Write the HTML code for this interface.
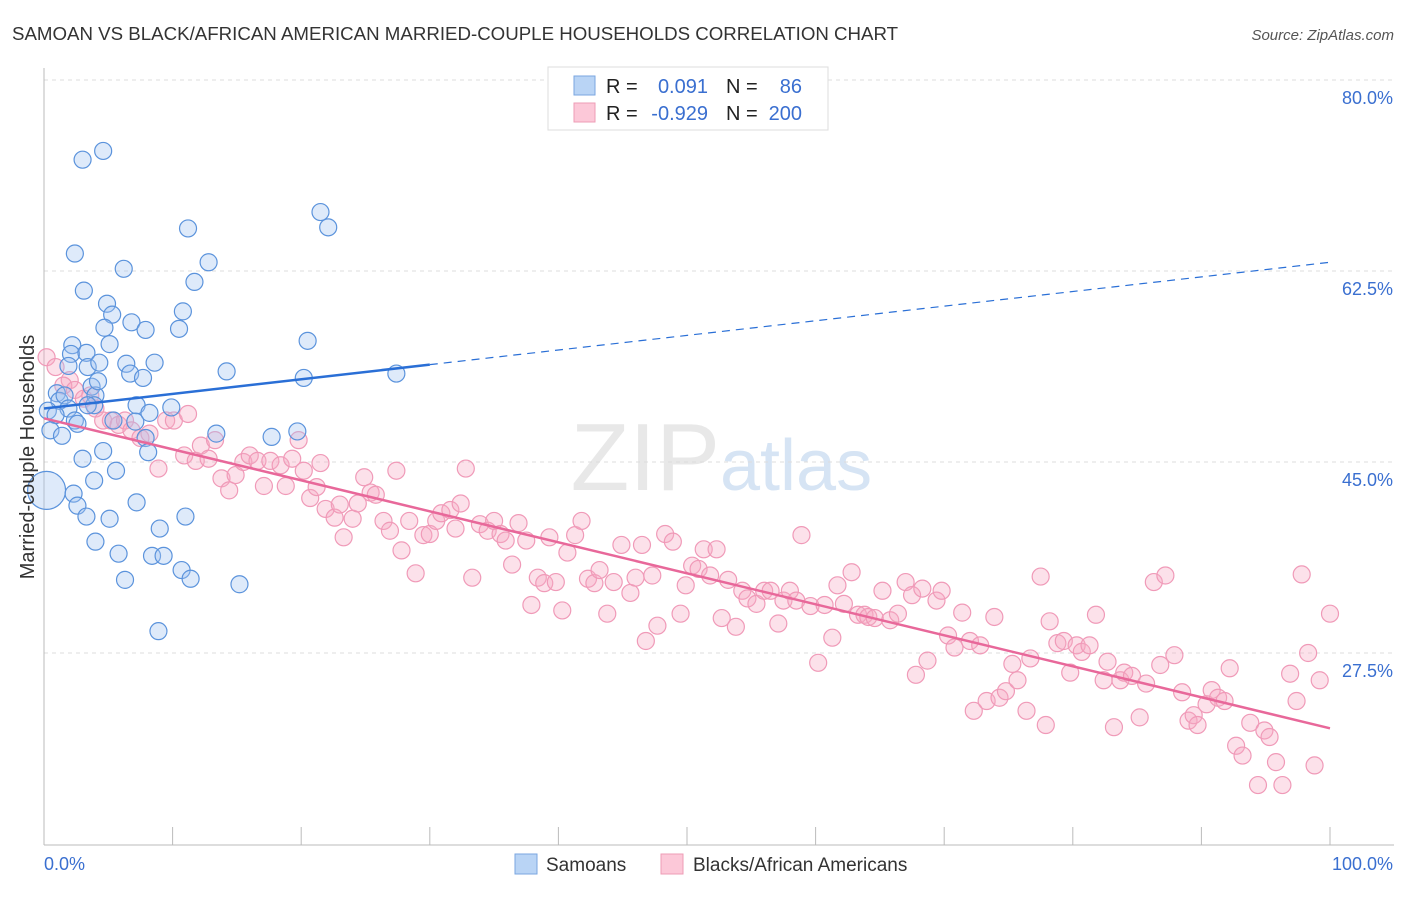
<!DOCTYPE html>
<html><head><meta charset="utf-8"><style>
body{margin:0;background:#fff;font-family:"Liberation Sans",sans-serif;}
svg text{font-family:"Liberation Sans",sans-serif;}
</style></head><body>
<svg id="chart" width="1406" height="892" viewBox="0 0 1406 892">
<text x="12" y="40" font-size="18.7" fill="#333">SAMOAN VS BLACK/AFRICAN AMERICAN MARRIED-COUPLE HOUSEHOLDS CORRELATION CHART</text>
<text x="1394" y="40" font-size="15" fill="#555" font-style="italic" text-anchor="end">Source: ZipAtlas.com</text>
<text x="720" y="490" font-size="96" fill="#e8e8e8" text-anchor="end" font-family="Liberation Serif">ZIP</text>
<text x="720" y="490" font-size="72" fill="#d6e4f4">atlas</text>
<g id="grid"></g>
<g id="axes"></g>
<g id="points"></g>
<g id="trends"></g>
<text transform="translate(34,457) rotate(-90)" font-size="20" fill="#333" text-anchor="middle">Married-couple Households</text>
<g>
<rect x="548" y="67" width="280" height="63" fill="#fff" stroke="#ddd"/>
<rect x="574" y="76" width="21" height="19" fill="#b9d4f5" stroke="#7aa6e0"/>
<rect x="574" y="103" width="21" height="19" fill="#fcc8d8" stroke="#ee9cb6"/>
<text x="606" y="93" font-size="20" fill="#222">R =</text>
<text x="708" y="93" font-size="20" fill="#3a6fd0" text-anchor="end">0.091</text>
<text x="726" y="93" font-size="20" fill="#222">N =</text>
<text x="802" y="93" font-size="20" fill="#3a6fd0" text-anchor="end">86</text>
<text x="606" y="120" font-size="20" fill="#222">R =</text>
<text x="708" y="120" font-size="20" fill="#3a6fd0" text-anchor="end">-0.929</text>
<text x="726" y="120" font-size="20" fill="#222">N =</text>
<text x="802" y="120" font-size="20" fill="#3a6fd0" text-anchor="end">200</text>
</g>
<g>
<rect x="515" y="854" width="22" height="20" fill="#b9d4f5" stroke="#7aa6e0"/>
<text x="546" y="871" font-size="19" fill="#333">Samoans</text>
<rect x="661" y="854" width="22" height="20" fill="#fcc8d8" stroke="#ee9cb6"/>
<text x="693" y="871" font-size="19" fill="#333">Blacks/African Americans</text>
</g>
</svg>
<script>
const yTicks=[80,62.5,45,27.5];
const yTickLabels=["80.0%","62.5%","45.0%","27.5%"];
const xTicks=[0,10,20,30,40,50,60,70,80,90,100];
const xEndLabels=["0.0%","100.0%"];
const blueX=[3.0,4.6,2.4,3.1,6.2,11.2,12.8,11.7,4.9,5.3,4.7,6.8,7.9,10.8,10.5,2.2,2.1,3.3,5.1,1.9,3.4,4.3,6.4,8.6,6.7,7.7,14.2,20.5,20.2,21.5,22.1,27.4,1.0,1.2,1.6,1.9,3.7,4.0,4.2,3.9,0.3,0.9,0.5,1.4,2.4,2.6,3.4,5.4,7.2,7.1,8.2,9.9,7.9,8.1,13.4,17.7,19.7,3.0,4.6,5.6,3.9,0.2,2.3,2.6,3.3,5.1,7.2,4.0,5.8,9.0,11.0,8.4,9.3,10.7,6.3,11.4,15.2,8.9];
const blueY=[72.7,73.5,64.1,60.7,62.7,66.4,63.3,61.5,59.5,58.5,57.3,57.8,57.1,58.8,57.2,55.7,54.9,55.0,55.8,53.8,53.7,54.1,54.0,54.1,53.1,52.7,53.3,56.1,52.7,67.9,66.5,53.1,51.3,50.6,51.1,49.9,51.9,51.1,52.4,50.2,49.7,49.3,47.9,47.4,48.8,48.5,50.2,48.8,50.2,48.7,49.5,50.0,47.2,45.9,47.6,47.3,47.8,45.3,46.0,44.2,43.3,42.4,42.1,41.0,40.0,39.8,41.3,37.7,36.6,38.9,40.0,36.4,36.4,35.1,34.2,34.3,33.8,29.5];
const blueBigIndex=[61];
const pinkX=[0.2,0.9,2.0,1.5,2.4,3.1,3.6,4.0,4.6,5.2,5.8,6.3,6.8,7.5,8.2,8.9,9.5,10.1,11.2,10.9,11.8,12.2,12.8,13.3,13.8,14.4,14.9,15.5,16.0,16.6,17.1,17.6,18.4,18.8,19.3,19.8,20.2,20.7,21.2,21.5,21.9,22.6,23.0,23.3,24.0,24.4,24.9,25.4,25.8,26.4,26.9,27.4,27.8,28.4,28.9,29.5,30.0,30.5,30.9,31.6,32.0,32.4,32.8,33.3,33.9,34.5,35.0,35.5,35.9,36.4,36.9,37.5,37.9,38.4,38.9,39.3,39.8,40.3,40.7,41.3,41.8,42.3,42.8,43.2,43.8,44.3,44.9,45.6,46.0,46.5,46.8,47.3,47.7,48.3,48.9,49.5,49.9,50.4,50.9,51.3,51.8,52.3,52.7,53.2,53.8,54.3,54.7,55.4,56.0,56.5,57.1,57.5,58.0,58.5,58.9,59.6,60.2,60.7,61.3,61.7,62.2,62.8,63.3,63.8,64.1,64.6,65.2,65.8,66.4,67.0,67.5,67.8,68.3,68.7,69.4,69.8,70.3,70.8,71.4,72.0,72.3,72.8,73.3,73.9,74.3,74.8,75.3,75.7,76.4,76.7,77.5,77.9,78.2,78.8,79.3,79.8,80.3,80.7,81.3,81.8,82.4,82.7,83.2,83.7,84.0,84.6,85.2,85.7,86.3,86.8,87.2,87.9,88.5,89.0,89.4,89.7,90.4,90.8,91.3,91.8,92.2,92.7,93.2,93.8,94.4,94.9,95.3,95.8,96.3,96.9,97.4,97.8,98.3,98.8,99.2,100];
const pinkY=[54.6,53.7,52.5,52.0,51.6,50.8,51.1,49.9,48.8,48.8,48.4,48.8,47.9,47.2,47.6,44.4,48.8,48.8,49.4,45.6,45.1,46.5,45.3,47.0,43.5,42.4,43.8,45.0,45.6,45.1,42.8,45.1,44.7,42.8,45.3,47.0,44.2,41.7,42.7,44.9,40.7,39.9,41.1,38.1,39.8,41.2,43.6,42.2,42.0,39.6,38.7,44.2,36.9,39.6,34.8,38.3,38.4,39.6,40.3,40.6,38.9,41.2,44.4,34.4,39.3,38.7,39.6,38.4,37.8,35.6,39.4,37.8,31.9,34.4,33.9,38.1,34.0,31.4,36.7,38.3,39.6,34.3,33.9,35.1,31.1,34.0,37.4,33.0,34.4,37.4,28.6,34.6,30.0,38.4,37.7,31.1,33.7,35.5,35.2,37.0,34.6,37.0,30.7,34.2,29.9,33.2,32.5,32.0,33.2,33.2,30.2,32.3,33.2,32.3,38.3,31.8,26.6,31.9,28.9,33.7,32.0,34.9,31.0,31.0,30.8,30.7,33.2,30.5,31.1,34.0,32.8,25.5,33.4,26.8,32.3,33.2,29.1,28.0,31.2,28.6,22.2,28.2,23.1,30.8,23.4,24.0,26.5,25.0,22.2,27.0,34.5,20.9,30.4,28.4,28.6,25.7,28.2,27.6,28.2,31.0,25.0,26.7,20.7,25.0,25.7,25.4,21.6,24.7,34.0,26.4,34.6,27.3,23.9,21.3,21.8,20.9,22.8,24.1,23.4,23.1,26.1,19.0,18.1,21.1,15.4,20.4,19.8,17.5,15.4,25.6,23.1,34.7,27.5,17.2,25.0,31.1];
const blueTrend=[49.9,0.134];
const pinkTrend=[49.0,-0.284];
const blueSolidEnd=30;
const NS="http://www.w3.org/2000/svg";
function xs(v){return 44+v*12.86;}
function ys(v){return 80+(80-v)*10.914;}
function mk(tag,attrs,parent){const e=document.createElementNS(NS,tag);for(const k in attrs)e.setAttribute(k,attrs[k]);parent.appendChild(e);return e;}
const grid=document.getElementById('grid'),axes=document.getElementById('axes'),pts=document.getElementById('points'),tr=document.getElementById('trends');
yTicks.forEach((t,i)=>{
  const l=mk('line',{x1:44,x2:1394,y1:ys(t),y2:ys(t),stroke:'#ddd','stroke-dasharray':'4,4'},grid);
  
  
  const tx=mk('text',{x:1393,y:ys(t)+24,'font-size':18,fill:'#3a6fd0','text-anchor':'end'},grid);
  tx.textContent=yTickLabels[i];
  
  
});
const ya=mk('line',{x1:44,x2:44,y1:68,y2:845,stroke:'#bbb'},axes);


const xa=mk('line',{x1:44,x2:1394,y1:845,y2:845,stroke:'#bbb'},axes);


xTicks.forEach(t=>{
  const l=mk('line',{x1:xs(t),x2:xs(t),y1:827,y2:845,stroke:'#bbb'},axes);
  
  
});
const xl0=mk('text',{x:44,y:870,'font-size':18,fill:'#3a6fd0'},axes);xl0.textContent=xEndLabels[0];


const xl1=mk('text',{x:1393,y:870,'font-size':18,fill:'#3a6fd0','text-anchor':'end'},axes);xl1.textContent=xEndLabels[1];


pinkX.forEach((x,i)=>{
  const c=mk('circle',{cx:xs(x),cy:ys(pinkY[i]),r:8.5,fill:'rgba(247,170,196,0.35)',stroke:'#f09ab8','stroke-width':1.2},pts);
  
  
});
blueX.forEach((x,i)=>{
  const big=blueBigIndex.includes(i);
  const c=mk('circle',{cx:xs(x),cy:ys(blueY[i]),r:big?19:8.5,fill:'rgba(160,196,240,0.35)',stroke:'#5b93dc','stroke-width':1.2},pts);
  
  
});
const bl=mk('line',{x1:xs(0),y1:ys(blueTrend[0]),x2:xs(blueSolidEnd),y2:ys(blueTrend[0]+blueTrend[1]*blueSolidEnd),stroke:'#2a6fd6','stroke-width':2.5},tr);


const bd=mk('line',{x1:xs(blueSolidEnd),y1:ys(blueTrend[0]+blueTrend[1]*blueSolidEnd),x2:xs(100),y2:ys(blueTrend[0]+blueTrend[1]*100),stroke:'#2a6fd6','stroke-width':1.2,'stroke-dasharray':'8,6'},tr);


const pl=mk('line',{x1:xs(0),y1:ys(pinkTrend[0]),x2:xs(100),y2:ys(pinkTrend[0]+pinkTrend[1]*100),stroke:'#e8689a','stroke-width':2.5},tr);


</script>
</body></html>
